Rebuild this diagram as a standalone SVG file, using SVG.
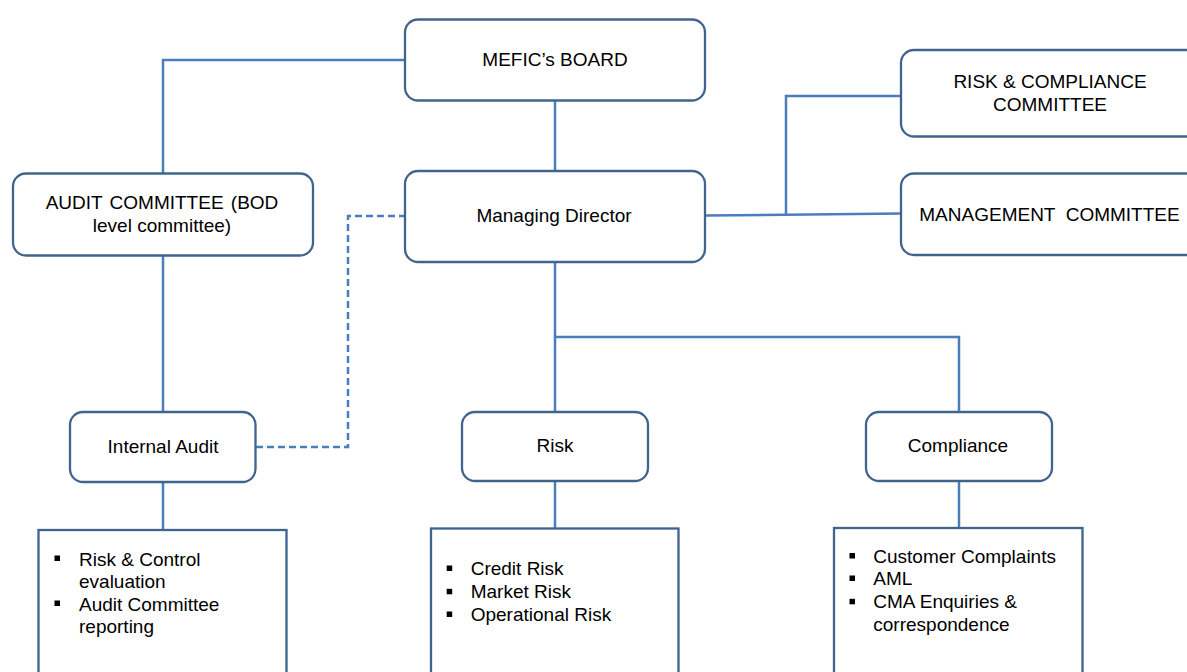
<svg xmlns="http://www.w3.org/2000/svg" width="1187" height="672" viewBox="0 0 1187 672">
<style>
.box{fill:#fff;stroke:#41648f;stroke-width:2.3}
.con{fill:none;stroke:#4a7ebb;stroke-width:2.5}
.dash{fill:none;stroke:#4a7ebb;stroke-width:2.5;stroke-dasharray:7,4}
text{font-family:"Liberation Sans",Arial,sans-serif;font-size:19px;fill:#000}
.c{text-anchor:middle}
.b{fill:#000}
</style>
<rect width="1187" height="672" fill="#fff"/>
<g id="connectors">
<polyline class="con" points="405,60 163,60 163,173.5"/>
<line class="con" x1="163" y1="255.5" x2="163" y2="412"/>
<line class="con" x1="163" y1="482" x2="163" y2="530"/>
<line class="con" x1="555" y1="101" x2="555" y2="171"/>
<line class="con" x1="555" y1="262" x2="555" y2="412"/>
<polyline class="con" points="555,337 959,337 959,412"/>
<line class="con" x1="555" y1="481" x2="555" y2="528.5"/>
<line class="con" x1="959" y1="481" x2="959" y2="528"/>
<line class="con" x1="705" y1="215.5" x2="901" y2="213.5"/>
<polyline class="con" points="786,214.5 786,96 901,96"/>
<polyline class="dash" points="256,447 348,447 348,216 405,216"/>
</g>
<g id="board">
<rect class="box" x="405" y="19.5" width="300" height="81" rx="13"/>
<text class="c" x="555" y="66">MEFIC’s BOARD</text>
</g>
<g id="md">
<rect class="box" x="405" y="171" width="300" height="91" rx="13"/>
<text class="c" x="554" y="222">Managing Director</text>
</g>
<g id="audit-committee">
<rect class="box" x="13" y="173.5" width="300" height="82" rx="13"/>
<text class="c" x="162" y="209.3" word-spacing="2">AUDIT COMMITTEE (BOD</text>
<text class="c" x="162" y="232.3">level committee)</text>
</g>
<g id="rc-committee">
<rect class="box" x="901" y="50" width="300" height="86.5" rx="13"/>
<text class="c" x="1050" y="88.3">RISK &amp; COMPLIANCE</text>
<text class="c" x="1050" y="111">COMMITTEE</text>
</g>
<g id="mgmt-committee">
<rect class="box" x="901" y="173.5" width="300" height="81.5" rx="13"/>
<text class="c" x="1049.5" y="220.7" xml:space="preserve">MANAGEMENT  COMMITTEE</text>
</g>
<g id="internal-audit">
<rect class="box" x="70" y="412" width="185.5" height="70" rx="13"/>
<text class="c" x="163" y="452.7">Internal Audit</text>
</g>
<g id="risk">
<rect class="box" x="462" y="412" width="186" height="69" rx="13"/>
<text class="c" x="555" y="452.3">Risk</text>
</g>
<g id="compliance">
<rect class="box" x="866" y="412" width="186" height="69" rx="13"/>
<text class="c" x="958" y="452.3">Compliance</text>
</g>
<g id="audit-list">
<rect class="box" x="38.5" y="530" width="248" height="160"/>
<rect class="b" x="54.5" y="555.5" width="5.5" height="5.5"/>
<rect class="b" x="54.5" y="600.5" width="5.5" height="5.5"/>
<text x="79" y="565.7">Risk &amp; Control</text>
<text x="79" y="588.3">evaluation</text>
<text x="79" y="610.7">Audit Committee</text>
<text x="79" y="633.3">reporting</text>
</g>
<g id="risk-list">
<rect class="box" x="431" y="528.5" width="247.5" height="160"/>
<rect class="b" x="446.7" y="565.5" width="5.5" height="5.5"/>
<rect class="b" x="446.7" y="588.8" width="5.5" height="5.5"/>
<rect class="b" x="446.7" y="611.5" width="5.5" height="5.5"/>
<text x="470.7" y="575">Credit Risk</text>
<text x="470.7" y="598.3">Market Risk</text>
<text x="470.7" y="621">Operational Risk</text>
</g>
<g id="compliance-list">
<rect class="box" x="834" y="528" width="248.5" height="160"/>
<rect class="b" x="849.5" y="553" width="5.5" height="5.5"/>
<rect class="b" x="849.5" y="575.5" width="5.5" height="5.5"/>
<rect class="b" x="849.5" y="598.8" width="5.5" height="5.5"/>
<text x="873.3" y="562.7">Customer Complaints</text>
<text x="873.3" y="585">AML</text>
<text x="873.3" y="608.3">CMA Enquiries &amp;</text>
<text x="873.3" y="631">correspondence</text>
</g>
</svg>
